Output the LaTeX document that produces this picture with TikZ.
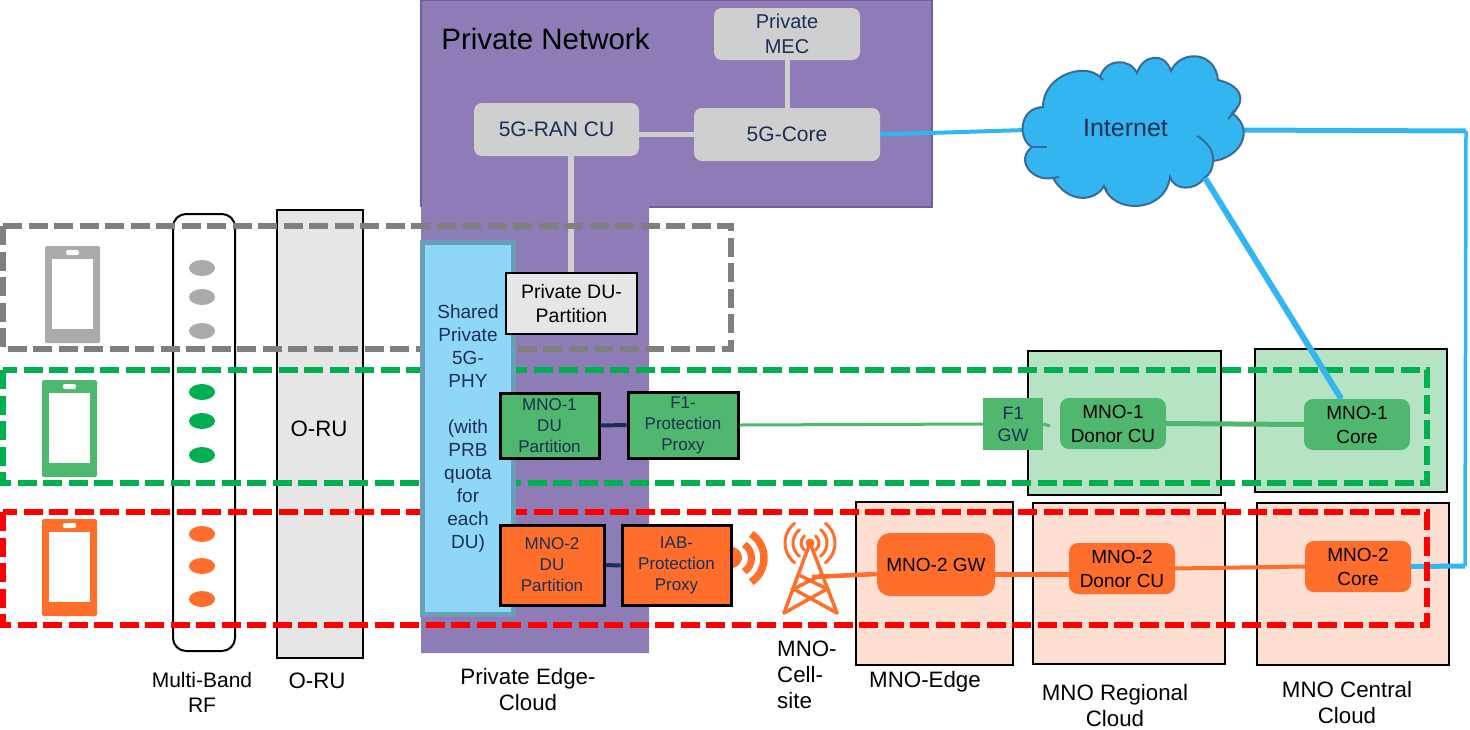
\documentclass[tikz,border=0pt]{standalone}
\usepackage{fontspec}
\setmainfont{Liberation Sans}
\definecolor{purplebg}{HTML}{8E7CB6}
\definecolor{purpleln}{HTML}{6F5F9C}
\definecolor{grayunit}{HTML}{CFCFCF}
\definecolor{lightunit}{HTML}{E6E6E6}
\definecolor{navytxt}{HTML}{1B2F55}
\definecolor{phybg}{HTML}{8FD7F9}
\definecolor{phyln}{HTML}{6A9FB9}
\definecolor{mnogreen}{HTML}{50B86E}
\definecolor{mnoorange}{HTML}{FF6E2B}
\definecolor{palegreen}{HTML}{B7E3C5}
\definecolor{paleorange}{HTML}{FFDFD2}
\definecolor{netblue}{HTML}{33B5F0}
\definecolor{cloudln}{HTML}{3A6A9A}
\definecolor{dashgray}{HTML}{7F7F7F}
\definecolor{dashgreen}{HTML}{00B050}
\definecolor{phonegray}{HTML}{ABABAB}
\tikzset{
	unit/.style={inner sep=0pt, align=center, text=navytxt, font=\fontsize{21}{26}\selectfont},
	greyunit/.style={unit, rounded corners=8pt, fill=grayunit},
	smallunit/.style={unit, draw=black, line width=3pt, font=\fontsize{17}{21}\selectfont},
	roundunit/.style={unit, rounded corners=9pt, text=black, font=\fontsize{19}{24}\selectfont},
	site/.style={inner sep=0pt, draw=black, line width=2pt},
	caption/.style={inner sep=0pt, align=center, font=\fontsize{22.3}{26}\selectfont},
	slice/.style={line width=5.5pt, dash pattern=on 19pt off 6.5pt},
	link/.style={netblue, line width=5pt},
	wave/.style={mnoorange, line width=3pt, line cap=round},
	cloudedge/.style={cloudln, line width=2pt}
}
\begin{document}
\begin{tikzpicture}[x=1pt, y=-1pt, line join=miter]
	\useasboundingbox (0,0) rectangle (1470,729);
	% private edge
	\fill[purplebg] (421,0) -- (932,0) -- (932,207) -- (649,207) -- (649,653) -- (421,653) -- cycle;
	\draw[purpleln, line width=1.5pt] (421,207) -- (421,0) -- (932,0) -- (932,207) -- (649,207);
	\node[inner sep=0pt, text=black, font=\fontsize{29.5}{34}\selectfont] (title) at (545.5,39) {Private Network};
	% columns on the left
	\node[draw=black, line width=2pt, rounded corners=13pt, minimum width=62pt, minimum height=437pt, inner sep=0pt] (rfband) at (204,432.5) {};
	\node[draw=black, fill=lightunit, line width=2.5pt, minimum width=86pt, minimum height=448pt, inner sep=0pt] (orubar) at (320,434) {};
	\node[caption] (orutxt) at (319,429) {O-RU};
	\foreach \py/\col in {268/phonegray,297/phonegray,331/phonegray,392/dashgreen,421/dashgreen,455/dashgreen,534/mnoorange,566/mnoorange,599/mnoorange}
		\fill[\col] (202,\py) ellipse[x radius=13pt, y radius=8pt];
	% phones
	\foreach \px/\py/\col in {45/246/phonegray,42/380/mnogreen,42/519/mnoorange} {
		\fill[\col, rounded corners=1.5pt] (\px,\py) rectangle ++(55,97);
		\fill[white] (\px+7,\py+13) rectangle ++(41,70);
		\fill[white, rounded corners=2pt] (\px+21,\py+4) rectangle ++(13,5);
	}
	% clouds of the operators
	\node[site, fill=palegreen, minimum width=193pt, minimum height=144pt] (cloudA) at (1124.5,423) {};
	\node[site, fill=palegreen, minimum width=192pt, minimum height=143pt] (centralA) at (1351,420.5) {};
	\node[site, fill=paleorange, minimum width=157pt, minimum height=163pt] (edgeB) at (934.5,583.5) {};
	\node[site, fill=paleorange, minimum width=192pt, minimum height=161pt] (cloudB) at (1129,583.5) {};
	\node[site, fill=paleorange, minimum width=192pt, minimum height=162pt] (centralB) at (1353,584) {};
	% internet
	\coordinate (netW) at (1026,130);
	\coordinate (netE) at (1240,130);
	\coordinate (netS) at (1205,178);
	\coordinate (topR) at (1466,131);
	\coordinate (botR) at (1465,566);
	\node[greyunit, minimum width=186pt, minimum height=53pt] (core) at (787,134.5) {5G-Core};
	\node[roundunit, fill=mnoorange, minimum width=106pt, minimum height=51pt] (coreB) at (1358,566.5) {MNO-2\\Core};
	\draw[netblue, line width=4pt] (core.east) -- (netW);
	\draw[link] (netE) -- (topR);
	\draw[netblue, line width=3.5pt] (topR) -- (botR);
	\draw[link] (botR) -- (coreB.east);
	\filldraw[fill=netblue, draw=cloudln, line width=2pt] (1043,107)
		.. controls (1043,75) and (1085,62) .. (1100,77)
		.. controls (1106,58) and (1130,58) .. (1137,73)
		.. controls (1143,54) and (1165,52) .. (1171,71)
		.. controls (1180,50) and (1215,50) .. (1218,80)
		.. controls (1240,85) and (1248,100) .. (1232,113)
		.. controls (1256,130) and (1240,158) .. (1213,161)
		.. controls (1213,168) and (1210,175) .. (1204,178)
		.. controls (1196,191) and (1174,191) .. (1170,177)
		.. controls (1165,214) and (1112,214) .. (1104,186)
		.. controls (1095,202) and (1068,204) .. (1053,178)
		.. controls (1032,182) and (1015,160) .. (1032,147)
		.. controls (1018,140) and (1018,108) .. (1043,107) -- cycle;
	\draw[cloudedge] (1197,136) .. controls (1206,141) and (1214,150) .. (1213,161);
	\draw[cloudedge] (1228,119) -- (1236,110);
	\draw[cloudedge] (1032,147) -- (1047,147);
	\draw[cloudedge] (1053,178) -- (1059,177);
	\draw[cloudedge] (1104,186) -- (1107,191);
	\draw[cloudedge] (1100,77) -- (1103,80);
	\node[unit, font=\fontsize{25}{30}\selectfont] (inet) at (1125.5,128) {Internet};
	% core network units
	\node[greyunit, minimum width=146pt, minimum height=52pt, font=\fontsize{20}{25}\selectfont] (mec) at (787,34) {Private\\MEC};
	\node[greyunit, minimum width=165pt, minimum height=53pt] (rancu) at (556.5,129.5) {5G-RAN CU};
	\draw[grayunit, line width=5pt] (mec) -- (core);
	\draw[grayunit, line width=5pt] (rancu.east |- core.west) -- (core.west);
	\coordinate (dutop) at (571,273);
	\draw[grayunit, line width=6pt] (rancu.south -| dutop) -- (dutop);
	% slices
	\draw[slice, dashgray] (3,226) rectangle (731,349);
	\draw[slice, dashgreen] (3,370) rectangle (1427,483);
	\draw[slice, red] (3,512) rectangle (1427,625);
	\node[roundunit, fill=mnogreen, minimum width=106pt, minimum height=51pt] (coreA) at (1357,424.5) {MNO-1\\Core};
	\draw[netblue, line width=6pt] (netS) -- (coreA);
	% shared phy and partitions
	\node[draw=phyln, fill=phybg, line width=5pt, minimum width=91pt, minimum height=372.5pt, inner sep=0pt] (phy) at (468,428.25) {};
	\node[unit, font=\fontsize{19}{23}\selectfont] (phytxt) at (468,429) {Shared\\Private\\5G-\\PHY\\[23pt](with\\PRB\\quota\\for\\each\\DU)};
	\node[unit, draw=black, fill=lightunit, line width=1.5pt, text=black, minimum width=131pt, minimum height=61pt, font=\fontsize{19.5}{24}\selectfont] (privdu) at (571.5,303.5) {Private DU-\\Partition};
	\node[smallunit, fill=mnogreen, minimum width=99pt, minimum height=65pt] (duA) at (549.5,425.5) {MNO-1\\DU\\Partition};
	\node[smallunit, fill=mnogreen, minimum width=110pt, minimum height=66pt] (proxyA) at (683,425) {F1-\\Protection\\Proxy};
	\node[smallunit, fill=mnoorange, minimum width=104pt, minimum height=80pt] (duB) at (552,565) {MNO-2\\DU\\Partition};
	\node[smallunit, fill=mnoorange, minimum width=109pt, minimum height=80pt] (proxyB) at (676.5,565.5) {IAB-\\Protection\\Proxy};
	\draw[navytxt, line width=4pt] (duA.east) -- (proxyA.west);
	\draw[navytxt, line width=4pt] (duB.east) -- (proxyB.west);
	% operator units
	\node[unit, fill=mnogreen, minimum width=60pt, minimum height=52pt, font=\fontsize{18}{22}\selectfont] (gwA) at (1013,424) {F1\\GW};
	\node[roundunit, fill=mnogreen, minimum width=106pt, minimum height=51pt] (cuA) at (1113,423.5) {MNO-1\\Donor CU};
	\coordinate (gwtail) at (1050,426);
	\draw[mnogreen, line width=3pt] (proxyA.east) -- (gwA.west);
	\draw[mnogreen, line width=3pt] (gwA.east) -- (gwtail);
	\draw[mnogreen, line width=5pt] (cuA.east) -- (coreA.west);
	\node[roundunit, fill=mnoorange, rounded corners=13pt, minimum width=118pt, minimum height=63pt] (gwB) at (936,564.5) {MNO-2 GW};
	\node[roundunit, fill=mnoorange, minimum width=106pt, minimum height=51pt] (cuB) at (1122,568.5) {MNO-2\\Donor CU};
	% radio waves and tower
	\coordinate (proxywave) at (735,558);
	\fill[mnoorange] (733,547) .. controls (745,550) and (745,565) .. (733,568) -- cycle;
	\foreach \r/\w in {16.5/7,29/7.5}
		\draw[mnoorange, line width=\w pt] ([shift={(-56:\r pt)}]proxywave) arc[start angle=-56, end angle=56, radius=\r pt];
	\coordinate (mast) at (810,543);
	\coordinate (legL) at (784,613);
	\coordinate (legR) at (837,613);
	\coordinate (towerfeed) at (812,577);
	\coordinate (gwfeed) at (1000,574);
	\draw[wave, line width=3.5pt, line join=round] (legL) -- (mast) -- (legR);
	\draw[wave, line width=3.5pt] (799,575) -- (827,589) -- (784,613);
	\draw[wave, line width=3.5pt] (821,575) -- (793.5,589) -- (837,613);
	\fill[mnoorange] (mast) circle[radius=4.5pt];
	\foreach \r in {9,17,25} {
		\draw[wave] ([shift={(-52:\r pt)}]mast) arc[start angle=-52, end angle=52, radius=\r pt];
		\draw[wave] ([shift={(128:\r pt)}]mast) arc[start angle=128, end angle=232, radius=\r pt];
	}
	\draw[mnoorange, line width=4.5pt] (towerfeed) -- (gwB.west |- gwfeed);
	\draw[mnoorange, line width=5pt] (gwB.east |- gwfeed) -- (cuB.west |- gwfeed);
	\draw[mnoorange, line width=4pt] (cuB.east) -- (coreB.west);
	% captions
	\node[caption, font=\fontsize{21}{25}\selectfont] (capRF) at (202,692.5) {Multi-Band\\RF};
	\node[caption] (capORU) at (317,681) {O-RU};
	\node[caption] (capEdge) at (528,690) {Private Edge-\\Cloud};
	\node[caption, align=left, anchor=west] (capSite) at (777,675) {MNO-\\Cell-\\site};
	\node[caption] (capMNO) at (925,682) {MNO-Edge};
	\node[caption] (capReg) at (1115,706) {MNO Regional\\Cloud};
	\node[caption] (capCen) at (1347,703) {MNO Central\\Cloud};
\end{tikzpicture}
\end{document}
